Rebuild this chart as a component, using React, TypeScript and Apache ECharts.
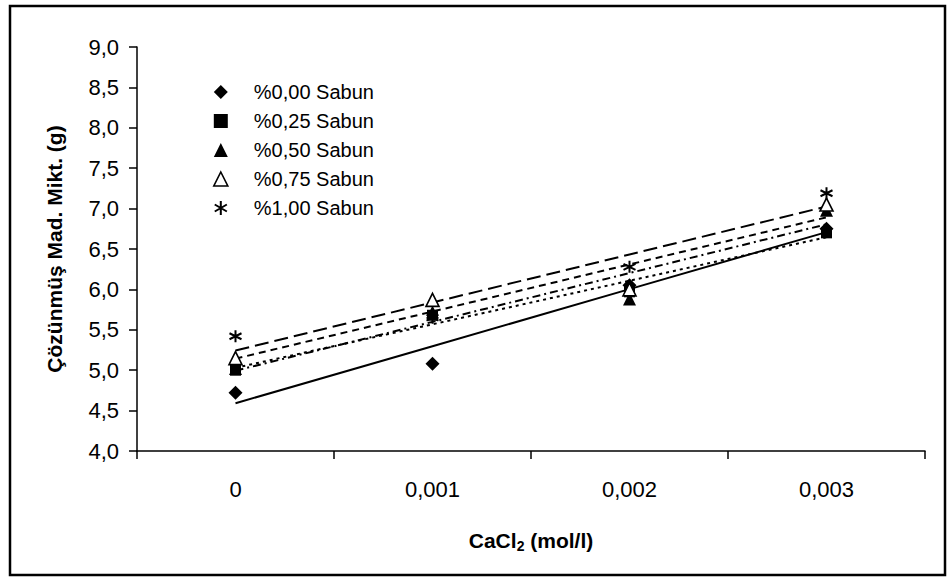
import React, { useEffect, useRef } from 'react';
import * as echarts from 'echarts';

const categories = ['0', '0,001', '0,002', '0,003'];
const seriesNames = ['%0,00 Sabun', '%0,25 Sabun', '%0,50 Sabun', '%0,75 Sabun', '%1,00 Sabun'];
const sabun000 = [4.72, 5.08, 6.05, 6.75];
const sabun025 = [5.0, 5.68, 5.97, 6.7];
const sabun050 = [5.02, 5.72, 5.88, 6.98];
const sabun075 = [5.15, 5.87, 6.0, 7.05];
const sabun100 = [5.42, 5.65, 6.28, 7.19];
const yMin = 4;
const yMax = 9;
const yStep = 0.5;

const allValues = [sabun000, sabun025, sabun050, sabun075, sabun100];
const STAR = 'path://M0,-10L0,10M-8.66,-5L8.66,5M-8.66,5L8.66,-5';
const symbols = ['diamond', 'rect', 'triangle', 'triangle', STAR];
const symbolSizes = [14, 11, 13, 13, 12];
const dashes: any[] = ['solid', [3, 4], [8, 4, 2, 4], [7, 5], [14, 6]];

// Linear trendline (least squares) of each series, as Excel's trendline
function trend(values: number[]): number[] {
  const n = values.length;
  const xs = values.map((_, i) => i);
  const mx = xs.reduce((a, b) => a + b, 0) / n;
  const my = values.reduce((a, b) => a + b, 0) / n;
  let num = 0;
  let den = 0;
  for (let i = 0; i < n; i++) {
    num += (xs[i] - mx) * (values[i] - my);
    den += (xs[i] - mx) * (xs[i] - mx);
  }
  const slope = num / den;
  const b = my - slope * mx;
  return xs.map((x) => +(b + slope * x).toFixed(4));
}

const FONT = '"Liberation Sans", Arial, sans-serif';

function styleFor(i: number) {
  if (i === 3) return { color: '#fff', borderColor: '#000', borderWidth: 1.6, opacity: 1 };
  if (i === 4) return { color: 'rgba(0,0,0,0)', borderColor: '#000', borderWidth: 2, opacity: 1 };
  return { color: '#000', borderColor: '#000', borderWidth: 0, opacity: 1 };
}

export default function App() {
  const ref = useRef<HTMLDivElement>(null);
  useEffect(() => {
    if (!ref.current) return;
    const chart = echarts.init(ref.current, undefined, { renderer: 'svg' });
    const lineSeries = allValues.map((vals, i) => ({
      name: seriesNames[i] + ' trend',
      type: 'line',
      data: trend(vals),
      symbol: 'none',
      silent: true,
      z: 2,
      lineStyle: { color: '#000', width: 2, type: dashes[i] },
    }));
    const scatterSeries = allValues.map((vals, i) => ({
      name: seriesNames[i],
      type: 'scatter',
      data: vals,
      symbol: symbols[i],
      symbolSize: symbolSizes[i],
      z: 3,
      itemStyle: styleFor(i),
      emphasis: { disabled: true },
    }));
    chart.setOption({
      animation: false,
      backgroundColor: '#fff',
      textStyle: { fontFamily: FONT },
      graphic: [
        {
          type: 'rect',
          shape: { x: 10, y: 6, width: 935, height: 569 },
          style: { fill: 'none', stroke: '#000', lineWidth: 2.5 },
          z: -1,
        },
      ],
      legend: {
        data: seriesNames.map((n, i) => ({
          name: n,
          icon: symbols[i],
          itemStyle: styleFor(i),
        })),
        orient: 'vertical',
        left: 208,
        top: 77,
        itemWidth: 14,
        itemHeight: 14,
        itemGap: 9,
        selectedMode: false,
        textStyle: {
          fontSize: 20,
          color: '#000',
          fontFamily: FONT,
          lineHeight: 20,
          padding: [0, 0, 0, 21],
        },
      },
      grid: { left: 137, top: 47, right: 26, bottom: 128, containLabel: false },
      xAxis: {
        type: 'category',
        data: categories,
        boundaryGap: true,
        name: 'CaCl{sub|2} (mol/l)',
        nameLocation: 'middle',
        nameGap: 76,
        nameTextStyle: {
          fontSize: 21,
          fontWeight: 'bold',
          color: '#000',
          fontFamily: FONT,
          rich: {
            sub: { fontSize: 14, fontWeight: 'bold', verticalAlign: 'bottom', lineHeight: 26, fontFamily: FONT },
          },
        },
        axisLine: { lineStyle: { color: '#000', width: 1.5 } },
        axisTick: { show: true, length: 8, lineStyle: { color: '#000', width: 1.5 } },
        axisLabel: { fontSize: 22, color: '#000', margin: 27, fontFamily: FONT },
        splitLine: { show: false },
      },
      yAxis: {
        type: 'value',
        min: yMin,
        max: yMax,
        interval: yStep,
        name: 'Çözünmüş Mad. Mikt. (g)',
        nameLocation: 'middle',
        nameGap: 72,
        nameRotate: 90,
        nameTextStyle: { fontSize: 21, fontWeight: 'bold', color: '#000', fontFamily: FONT },
        axisLine: { show: true, lineStyle: { color: '#000', width: 1.5 } },
        axisTick: { show: true, length: 8, lineStyle: { color: '#000', width: 1.5 } },
        axisLabel: {
          fontSize: 22,
          color: '#000',
          margin: 18,
          fontFamily: FONT,
          formatter: (v: number) => v.toFixed(1).replace('.', ','),
        },
        splitLine: { show: false },
      },
      series: [...lineSeries, ...scatterSeries],
    });
    return () => chart.dispose();
  }, []);
  return (
    <div
      ref={ref}
      style={{ position: 'fixed', left: 0, top: 0, width: 951, height: 579, background: '#fff' }}
    />
  );
}
